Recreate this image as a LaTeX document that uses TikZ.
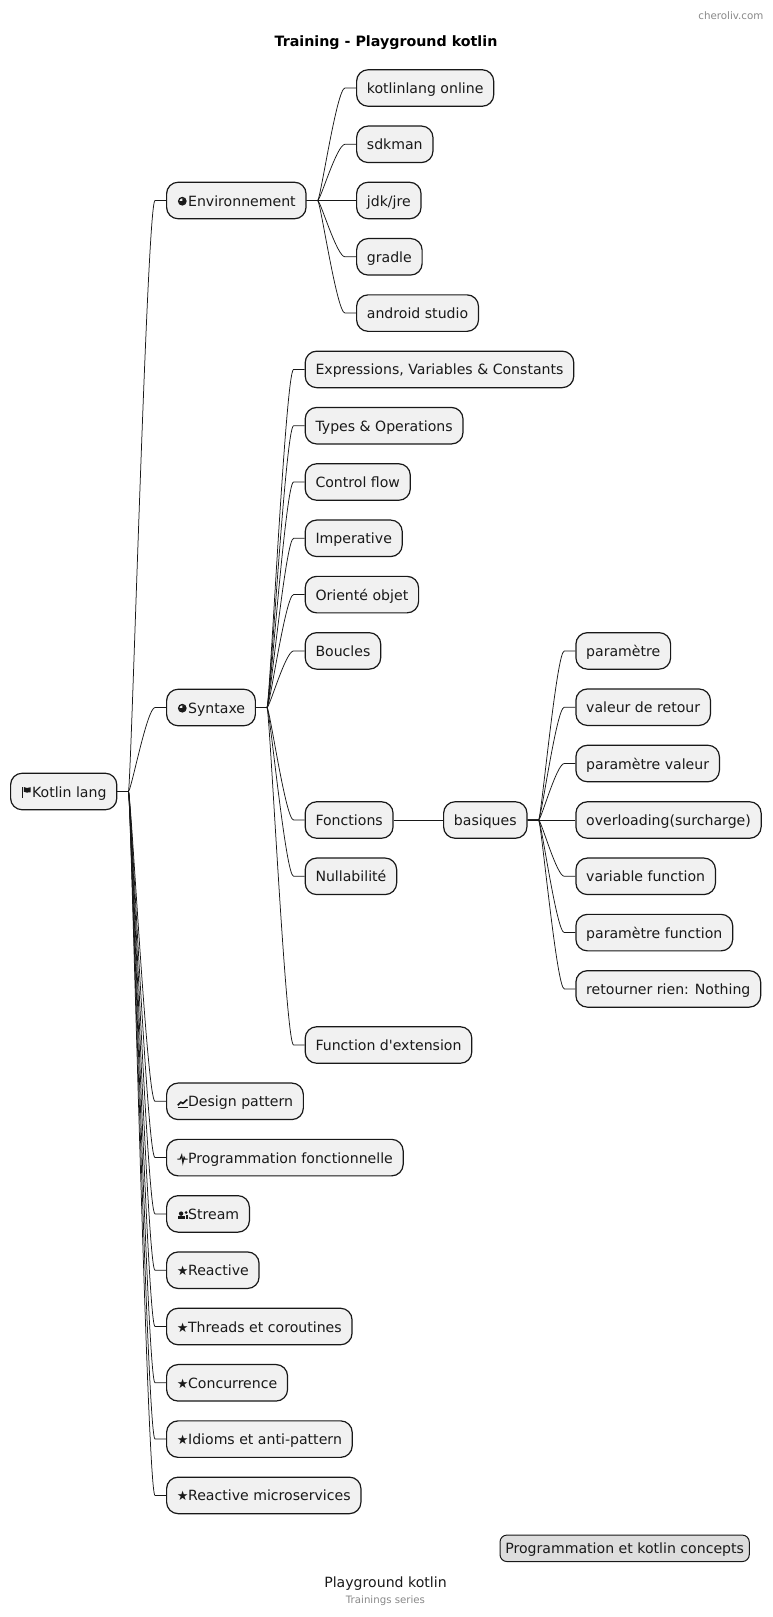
\documentclass[tikz,border=0pt]{standalone}
\usepackage{fontspec}
\setmainfont[Ligatures=TeXOff]{DejaVu Sans}
\usetikzlibrary{calc}
\definecolor{boxfill}{HTML}{F1F1F1}
\definecolor{boxline}{HTML}{181818}
\definecolor{legendfill}{HTML}{DDDDDD}
\definecolor{softgray}{HTML}{888888}
\tikzset{iconpic/.style={x=1pt,y=1pt,baseline=0pt,sharp corners}}
\newcommand{\iconpie}{\tikz[iconpic]{\useasboundingbox (0,0) rectangle (11.2,10);
  \draw[boxline,line width=1.3pt] (5.4,4.8) circle (3.7);
  \fill[boxline] (5.4,4.8) -- (5.4,8) arc (90:-180:3.2) -- cycle;}}
\newcommand{\iconflag}{\tikz[iconpic]{\useasboundingbox (0,0) rectangle (11.2,10);
  \draw[boxline,line width=1.1pt] (1.2,-0.5) -- (1.2,10.2);
  \fill[boxline] (3,10) -- (6,9) -- (9.8,9.8) -- (9.8,4.8) -- (6,4.4) -- (3,5.2) -- cycle;}}
\newcommand{\icongraph}{\tikz[iconpic]{\useasboundingbox (0,0) rectangle (11.2,10);
  \draw[boxline,line width=1.2pt] (0.6,-0.6) -- (10.6,-0.6);
  \draw[boxline,line width=1.6pt] (0.8,1.6) -- (4,4.6) -- (6,3.4) -- (10.4,7.4);}}
\newcommand{\iconpulse}{\tikz[iconpic]{\useasboundingbox (0,0) rectangle (11.2,10);
  \draw[boxline,line width=1.2pt] (0.4,4) -- (3.2,4) -- (4.8,7.8) -- (6,0.6) -- (7.2,5.6) -- (8,4) -- (10.8,4);}}
\newcommand{\iconpeople}{\tikz[iconpic]{\useasboundingbox (0,0) rectangle (11.2,10);
  \fill[boxline] (4.2,5.8) circle (2.2);
  \fill[boxline] (0.6,0) rectangle (7.8,3.2);
  \fill[boxline] (9.2,7) circle (1.5);
  \fill[boxline] (8.6,0) rectangle (11,4.4);}}
\newcommand{\iconstar}{\makebox[11.2pt][l]{\fontsize{13}{13}\selectfont ★}}
\begin{document}
\begin{tikzpicture}[x=1pt,y=-1pt]
	\tikzstyle{topic}=[rounded corners=11.5pt,draw=boxline,line width=1.2pt,fill=boxfill,text=black!90,anchor=west,
		inner xsep=10.3pt,inner ysep=0pt,minimum height=36.5pt,text height=14pt,text depth=3pt,font=\fontsize{14.1}{16}\selectfont]
	\tikzstyle{legendbox}=[rounded corners=7pt,draw=boxline,line width=1pt,fill=legendfill,text=black!90,anchor=west,
		inner xsep=5.3pt,inner ysep=0pt,minimum height=26.5pt,text height=14pt,text depth=3pt,font=\fontsize{14.1}{16}\selectfont]
	\tikzstyle{branch}=[draw=boxline,line width=0.75pt,to path={let \p1=(\tikztostart.east),\p2=(\tikztotarget.west) in
		(\p1) -- ({\x1+11pt},\y1)
		.. controls ({\x1+11pt+0.1*(\x2-\x1-22pt)},\y1) and ({\x1+11pt+0.7*(\x2-\x1-22pt)},\y2) ..
		({\x2-11pt},\y2) -- (\p2)}]
	\useasboundingbox (0,0) rectangle (773,1617);
	\node [text=softgray,anchor=east,font=\fontsize{10.3}{12}\selectfont] (site) at (767,16) {cheroliv.com};
	\node [font=\bfseries\fontsize{14.25}{16}\selectfont] (title) at (386,42.5) {Training - Playground kotlin};

	\node [topic] (root) at (10,791.5) {\iconflag Kotlin lang};
	\node [topic] (env) at (166,200.5) {\iconpie Environnement};
	\node [topic] (syn) at (166,707.5) {\iconpie Syntaxe};
	\node [topic] (design) at (166,1101.3) {\icongraph Design pattern};
	\node [topic] (prog) at (166,1157.6) {\iconpulse Programmation fonctionnelle};
	\node [topic] (stream) at (166,1213.9) {\iconpeople Stream};
	\node [topic] (react) at (166,1270.2) {\iconstar Reactive};
	\node [topic] (threads) at (166,1326.5) {\iconstar Threads et coroutines};
	\node [topic] (conc) at (166,1382.8) {\iconstar Concurrence};
	\node [topic] (idioms) at (166,1439.1) {\iconstar Idioms et anti-pattern};
	\node [topic] (micro) at (166,1495.4) {\iconstar Reactive microservices};

	\node [topic] (online) at (356,88) {kotlinlang online};
	\node [topic] (sdk) at (356,144.3) {sdkman};
	\node [topic] (jdk) at (356,200.5) {jdk/jre};
	\node [topic] (gradle) at (356,256.8) {gradle};
	\node [topic] (studio) at (356,313.1) {android studio};

	\node [topic] (expr) at (304.6,369.4) {Expressions, Variables \& Constants};
	\node [topic] (types) at (304.6,425.7) {Types \& Operations};
	\node [topic] (flow) at (304.6,482) {Control flow};
	\node [topic] (imper) at (304.6,538.3) {Imperative};
	\node [topic] (objet) at (304.6,594.6) {Orienté objet};
	\node [topic] (loops) at (304.6,650.9) {Boucles};
	\node [topic] (fun) at (304.6,820) {Fonctions};
	\node [topic] (null) at (304.6,876.3) {Nullabilité};
	\node [topic] (ext) at (304.6,1045) {Function d'extension};

	\node [topic] (basic) at (443,820) {basiques};
	\node [topic] (param) at (575.3,650.9) {paramètre};
	\node [topic] (ret) at (575.3,707.2) {valeur de retour};
	\node [topic] (pval) at (575.3,763.5) {paramètre valeur};
	\node [topic] (over) at (575.3,820) {overloading(surcharge)};
	\node [topic] (vfun) at (575.3,876.3) {variable function};
	\node [topic] (pfun) at (575.3,932.6) {paramètre function};
	\node [topic] (none) at (575.3,988.9) {retourner rien: Nothing};

	\node [legendbox] (legend) at (499.5,1548.3) {Programmation et kotlin concepts};
	\node [text=black!90,font=\fontsize{14.1}{16}\selectfont] (foot) at (385.5,1584) {Playground kotlin};
	\node [text=softgray,font=\fontsize{10.2}{12}\selectfont] (series) at (385.5,1600.5) {Trainings series};

	\foreach \src/\dst in {root/env,root/syn,root/design,root/prog,root/stream,root/react,root/threads,root/conc,root/idioms,root/micro,
		env/online,env/sdk,env/jdk,env/gradle,env/studio,
		syn/expr,syn/types,syn/flow,syn/imper,syn/objet,syn/loops,syn/fun,syn/null,syn/ext,
		fun/basic,basic/param,basic/ret,basic/pval,basic/over,basic/vfun,basic/pfun,basic/none}
		\draw[branch] (\src) to (\dst);
\end{tikzpicture}
\end{document}
